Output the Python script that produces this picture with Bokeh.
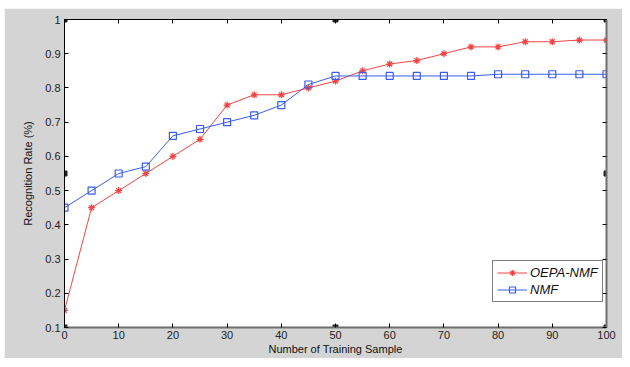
from bokeh.plotting import figure
from bokeh.models import LinearAxis, FixedTicker, Legend, LegendItem, Range1d, CustomLabelingPolicy
from bokeh.embed import file_html
from bokeh.resources import INLINE

samples = [0, 5, 10, 15, 20, 25, 30, 35, 40, 45, 50, 55, 60, 65, 70, 75, 80, 85, 90, 95, 100]
oepa_nmf = [0.15, 0.45, 0.50, 0.55, 0.60, 0.65, 0.75, 0.78, 0.78, 0.80, 0.82, 0.85, 0.87, 0.88,
            0.90, 0.92, 0.92, 0.935, 0.935, 0.94, 0.94]
nmf = [0.45, 0.50, 0.55, 0.57, 0.66, 0.68, 0.70, 0.72, 0.75, 0.81, 0.835, 0.835, 0.835, 0.835,
       0.835, 0.835, 0.84, 0.84, 0.84, 0.84, 0.84]
x_ticks = [0, 10, 20, 30, 40, 50, 60, 70, 80, 90, 100]
y_ticks = [0.1, 0.2, 0.3, 0.4, 0.5, 0.6, 0.7, 0.8, 0.9, 1.0]
series_names = ["OEPA-NMF", "NMF"]

X_MIN, X_MAX = 0, 100
Y_MIN, Y_MAX = 0.1, 1.0

GRAY = "#d4d4d4"
RED = "#f04444"
BLUE = "#3a5cf0"
FONT = "Liberation Sans"

p = figure(width=618, height=350, output_backend="svg", toolbar_location=None,
           x_range=Range1d(X_MIN, X_MAX), y_range=Range1d(Y_MIN, Y_MAX),
           min_border_left=60, min_border_right=16, min_border_top=11, min_border_bottom=31,
           x_axis_label="Number of Training Sample", y_axis_label="Recognition Rate (%)")
p.margin = (8, 0, 0, 4)
p.border_fill_color = GRAY
p.background_fill_color = "white"
p.outline_line_color = None
p.grid.visible = False

no_labels = CustomLabelingPolicy(code="return new Set()")

def style_axis(ax, labels=True, color="black", width=1):
    ax.major_tick_in = 4
    ax.major_tick_out = 0
    ax.minor_tick_in = 0
    ax.minor_tick_out = 0
    ax.axis_line_color = color
    ax.axis_line_width = width
    ax.major_tick_line_color = "black"
    ax.major_label_text_font = FONT
    ax.major_label_text_font_size = "11px"
    ax.major_label_text_color = "#222222"
    ax.axis_label_text_font = FONT
    ax.axis_label_text_font_size = "11px"
    ax.axis_label_text_font_style = "normal"
    ax.axis_label_text_color = "#111111"
    if not labels:
        ax.major_label_policy = no_labels
        ax.major_label_text_font_size = "1px"
        ax.major_label_standoff = 0

style_axis(p.xaxis[0], color="#6e6e6e", width=2)
p.xaxis[0].ticker = FixedTicker(ticks=x_ticks)
p.xaxis[0].major_label_standoff = 3
p.xaxis[0].axis_label_standoff = 1
style_axis(p.yaxis[0])
p.yaxis[0].ticker = FixedTicker(ticks=y_ticks)
p.yaxis[0].major_label_overrides = {1: "1"}
p.yaxis[0].major_label_standoff = 4
p.yaxis[0].axis_label_standoff = 8

top = LinearAxis(ticker=FixedTicker(ticks=x_ticks))
style_axis(top, labels=False)
p.add_layout(top, "above")
right = LinearAxis(ticker=FixedTicker(ticks=y_ticks))
style_axis(right, labels=False, color="#6e6e6e", width=2)
p.add_layout(right, "right")

r1l = p.line(samples, oepa_nmf, line_color=RED, line_width=1)
r1m = p.scatter(samples, oepa_nmf, marker="asterisk", size=7, line_color=RED, line_width=1.2)
r2l = p.line(samples, nmf, line_color=BLUE, line_width=1)
r2m = p.scatter(samples, nmf, marker="square", size=7, line_color=BLUE, fill_color=None, line_width=1.2)

# selection handles at axes corners / midpoints
hx = [X_MIN, (X_MIN + X_MAX) / 2, X_MAX, X_MIN, X_MAX, X_MIN, (X_MIN + X_MAX) / 2, X_MAX]
hy = [Y_MAX, Y_MAX, Y_MAX, (Y_MIN + Y_MAX) / 2, (Y_MIN + Y_MAX) / 2, Y_MIN, Y_MIN, Y_MIN]
p.scatter(hx, hy, marker="square", size=5, fill_color="#222222", line_color="#222222")

legend = Legend(items=[LegendItem(label=series_names[0], renderers=[r1l, r1m]),
                       LegendItem(label=series_names[1], renderers=[r2l, r2m])],
                location=(428, 25), orientation="vertical")
legend.label_text_font = FONT
legend.label_text_font_style = "italic"
legend.label_text_font_size = "13px"
legend.label_text_color = "#111111"
legend.glyph_width = 30
legend.glyph_height = 15
legend.label_height = 15
legend.label_standoff = 3
legend.spacing = 2
legend.padding = 4
legend.margin = 0
legend.border_line_color = "black"
legend.border_line_width = 1
legend.background_fill_color = "white"
legend.background_fill_alpha = 1
p.add_layout(legend, "center")

open("out.html", "w").write(file_html(p, INLINE))
